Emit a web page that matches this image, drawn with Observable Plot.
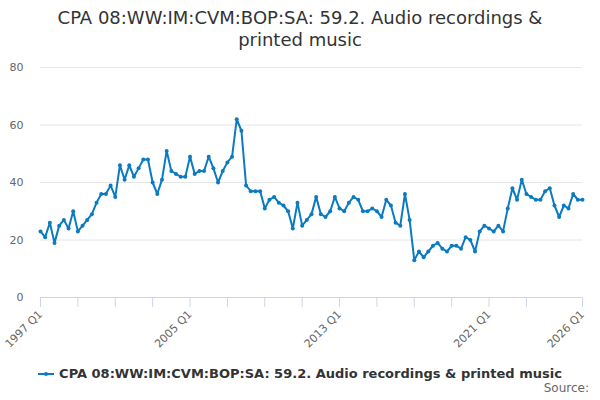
<!DOCTYPE html>
<html>
<head>
<meta charset="utf-8">
<script src="https://cdn.jsdelivr.net/npm/d3@7"></script>
<script src="https://cdn.jsdelivr.net/npm/@observablehq/plot@0.6"></script>
<style>
  body { margin: 0; width: 600px; height: 400px; overflow: hidden; background: #fff; font-family: "DejaVu Sans", sans-serif; }
  #title { text-align: center; font-size: 18px; line-height: 22px; color: #333; padding-top: 7px; height: 45px; }
  #chart svg { display: block; }
  #legend { text-align: center; font-size: 13px; font-weight: bold; color: #333; height: 22px; line-height: 22px; margin-top: 11px; }
  #legend svg { vertical-align: middle; margin-right: 5px; position: relative; top: -1px; }
  #source { position: absolute; right: 11px; top: 381px; font-size: 12px; color: #666; }
</style>
</head>
<body>
<div id="title">CPA 08:WW:IM:CVM:BOP:SA: 59.2. Audio recordings &amp;<br>printed music</div>
<div id="chart"></div>
<div id="legend"></div>
<div id="source">Source:</div>
<script>
const seriesName = "CPA 08:WW:IM:CVM:BOP:SA: 59.2. Audio recordings & printed music";
const years = [1997,1998,1999,2000,2001,2002,2003,2004,2005,2006,2007,2008,2009,2010,2011,2012,2013,2014,2015,2016,2017,2018,2019,2020,2021,2022,2023,2024,2025,2026];
const quarters = ["Q1","Q2","Q3","Q4"];
const values = [
  23,21,26,19, 25,27,24,30, 23,25,27,29, 33,36,36,39,
  35,46,41,46, 42,45,48,48, 40,36,41,51, 44,43,42,42,
  49,43,44,44, 49,45,40,44, 47,49,62,58, 39,37,37,37,
  31,34,35,33, 32,30,24,33, 25,27,29,35, 29,28,30,35,
  31,30,33,35, 34,30,30,31, 30,28,34,32, 26,25,36,27,
  13,16,14,16, 18,19,17,16, 18,18,17,21, 20,16,23,25,
  24,23,25,23, 31,38,34,41, 36,35,34,34, 37,38,32,28,
  32,31,36,34, 34
];
const tickValues = ["1997 Q1","1999 Q1","2001 Q1","2003 Q1","2005 Q1","2007 Q1","2009 Q1","2011 Q1","2013 Q1","2015 Q1","2017 Q1","2019 Q1","2021 Q1","2023 Q1","2026 Q1"];
const labelValues = ["1997 Q1","2005 Q1","2013 Q1","2021 Q1","2026 Q1"];
const yTicks = [0,20,40,60,80];
const color = "#0b7bc1";

const allPeriods = [];
years.forEach(y => quarters.forEach(q => allPeriods.push(y + " " + q)));
const categories = allPeriods.slice(0, values.length);
const data = values.map((v, i) => ({idx: i, period: categories[i], value: v}));
const idxOf = label => categories.indexOf(label);

const chart = Plot.plot({
  width: 600,
  height: 300,
  marginLeft: 40,
  marginRight: 18,
  marginTop: 15,
  marginBottom: 55,
  style: {fontFamily: "DejaVu Sans, sans-serif", fontSize: "11px", background: "#fff"},
  x: {type: "linear", domain: [0, categories.length - 1]},
  y: {domain: [0, 80]},
  marks: [
    Plot.gridY(yTicks.filter(d => d > 0), {stroke: "#e6e6e6", strokeOpacity: 1}),
    Plot.axisY(yTicks, {tickSize: 0, tickPadding: 17, fill: "#666", fontSize: 11, label: null}),
    Plot.ruleY([0], {stroke: "#ccd6eb"}),
    Plot.axisX(tickValues.map(idxOf), {tickSize: 10, stroke: "#ccd6eb", strokeOpacity: 1, tickFormat: () => "", label: null}),
    Plot.axisX(labelValues.map(idxOf), {tickSize: 0, tickPadding: 15, tickRotate: -45, fill: "#666", fontSize: 11, label: null, tickFormat: i => categories[i]}),
    Plot.line(data, {x: "idx", y: "value", stroke: color, strokeWidth: 2}),
    Plot.dot(data, {x: "idx", y: "value", r: 2, fill: color, stroke: null})
  ]
});
document.getElementById("chart").appendChild(chart);

document.getElementById("legend").innerHTML =
  '<svg width="16" height="10"><line x1="0" y1="5" x2="16" y2="5" stroke="' + color + '" stroke-width="2"/><circle cx="8" cy="5" r="2" fill="' + color + '"/></svg>' +
  seriesName.replace(/&/g, "&amp;");
</script>
</body>
</html>
